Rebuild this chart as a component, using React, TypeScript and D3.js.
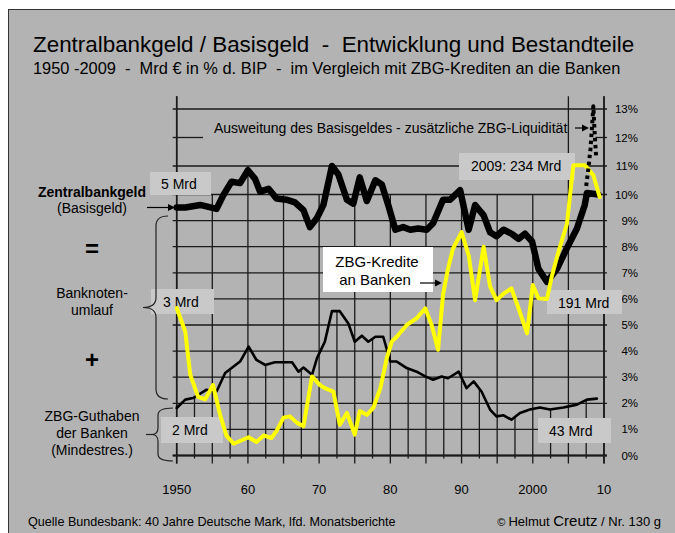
import React from 'react'
import * as d3 from 'd3'

// Zentralbankgeld (Basisgeld), % d. BIP
const baseYears = [1950, 1951.2, 1953.3, 1955.6, 1956.5, 1957.7, 1958.9, 1960, 1961, 1961.7, 1962.9, 1964, 1965.4, 1966.6, 1967.8, 1968.7, 1969.7, 1970.6, 1971.8, 1972.7, 1973.9, 1974.8, 1975.7, 1976.7, 1977.9, 1978.8, 1979.7, 1980.7, 1981.8, 1982.8, 1983.9, 1985.1, 1986, 1987.4, 1988.4, 1989.8, 1991, 1991.9, 1993.1, 1994, 1994.9, 1995.9, 1997, 1998, 1998.9, 1999.9, 2000.8, 2002, 2003.4, 2004.8, 2006.2, 2007.3, 2007.6, 2009.2]
const baseValues = [9.5, 9.5, 9.6, 9.45, 9.95, 10.45, 10.4, 10.85, 10.55, 10.1, 10.2, 9.85, 9.8, 9.7, 9.4, 8.75, 9.1, 9.6, 11.0, 10.7, 9.8, 9.65, 10.6, 9.75, 10.5, 10.35, 9.6, 8.65, 8.75, 8.65, 8.7, 8.65, 8.9, 9.8, 9.8, 10.15, 8.65, 9.6, 9.2, 8.55, 8.4, 8.65, 8.5, 8.3, 8.5, 8.2, 7.15, 6.65, 7.15, 7.95, 8.7, 9.6, 10.05, 10.0]

// Ausweitung des Basisgeldes (gepunktet)
const extraYears = [2007.5, 2007.8, 2008.1, 2008.3, 2008.5, 2008.7, 2008.9]
const extraValues = [10.3, 10.9, 11.6, 12.3, 13.1, 12.1, 11.3]

// ZBG-Kredite an Banken
const creditYears = [1950, 1951.2, 1951.9, 1953, 1954, 1955.1, 1956.1, 1957, 1958, 1960.1, 1961.2, 1962.2, 1963.3, 1964, 1965, 1965.9, 1966.9, 1967.8, 1969, 1970.1, 1970.8, 1972, 1972.9, 1973.9, 1975, 1975.7, 1976.7, 1977.6, 1978.6, 1979.5, 1980.2, 1980.9, 1982.3, 1983.7, 1984.9, 1985.8, 1986.7, 1987.4, 1988.1, 1988.8, 1990, 1991, 1991.9, 1993.1, 1994, 1994.9, 1995.9, 1997, 1998, 1999.2, 2000, 2000.8, 2002, 2002.7, 2003.6, 2004.8, 2005.7, 2007.3, 2008.5, 2009.4]
const creditValues = [5.65, 4.75, 3.1, 2.25, 2.15, 2.7, 1.55, 0.75, 0.45, 0.7, 0.52, 0.77, 0.67, 0.93, 1.45, 1.5, 1.25, 1.12, 3.03, 2.7, 2.58, 2.45, 1.18, 1.63, 0.8, 1.7, 1.56, 1.82, 2.58, 3.73, 4.36, 4.55, 5.0, 5.26, 5.64, 5.0, 4.05, 6.16, 7.16, 7.93, 8.56, 7.67, 5.95, 8.0, 6.48, 5.95, 6.2, 6.4, 5.64, 4.68, 6.53, 6.02, 6.0, 6.9, 7.8, 8.88, 11.03, 11.03, 10.68, 9.9]

// ZBG-Guthaben der Banken (Mindestreserve)
const reserveYears = [1950, 1951.2, 1952.3, 1954.2, 1955.6, 1956.8, 1958.9, 1960.1, 1961.2, 1962.4, 1963.8, 1966.2, 1967.1, 1967.8, 1969, 1969.7, 1970.8, 1971.8, 1972.9, 1974.1, 1975, 1976, 1976.9, 1977.9, 1979, 1980, 1980.9, 1982.3, 1983.7, 1984.9, 1986, 1987.2, 1988.1, 1989.6, 1990.7, 1991.7, 1992.8, 1994, 1994.9, 1995.9, 1997, 1998.2, 1999.6, 2001, 2002.4, 2004.3, 2006.2, 2007.6, 2009]
const reserveValues = [1.82, 2.14, 2.2, 2.52, 2.45, 3.16, 3.6, 4.17, 3.66, 3.47, 3.57, 3.57, 3.21, 3.37, 3.09, 3.73, 4.36, 5.53, 5.53, 5.06, 4.36, 4.59, 4.36, 4.55, 4.55, 3.6, 3.6, 3.35, 3.21, 3.03, 2.9, 3.03, 2.96, 3.21, 2.58, 2.84, 2.45, 1.76, 1.5, 1.54, 1.37, 1.63, 1.76, 1.84, 1.76, 1.84, 1.95, 2.14, 2.18]

const xTickYears = [1950, 1960, 1970, 1980, 1990, 2000, 2010]
const xTickLabels = ['1950', '60', '70', '80', '90', '2000', '10']
const yTickValues = d3.range(0, 14)

const font = 'Liberation Sans, Arial, Helvetica, sans-serif'
const bg = '#b3b3b3'
const boxFill = '#c9c9c9'
const gridColor = '#1a1a1a'

const x = d3.scaleLinear().domain([1950, 2010]).range([176.7, 604])
const y = d3.scaleLinear().domain([0, 10, 13]).range([455.5, 194.5, 109])

type P = [number, number]
const zip = (a: number[], b: number[]): P[] => a.map((v, i) => [v, b[i]])
const line = d3.line<P>().x(d => x(d[0])).y(d => y(d[1]))
const reserveAt = d3.scaleLinear().domain(reserveYears).range(reserveValues)

const brace = (xr: number, xm: number, xt: number, y1: number, y2: number, r: number) => {
  const ym = (y1 + y2) / 2
  return `M${xr},${y1} Q${xm},${y1} ${xm},${y1 + r} L${xm},${ym - r} Q${xm},${ym} ${xt},${ym} Q${xm},${ym} ${xm},${ym + r} L${xm},${y2 - r} Q${xm},${y2} ${xr},${y2}`
}

const LabelBox = ({ bx, by, w, h, tx, ty, text }: { bx: number; by: number; w: number; h: number; tx: number; ty: number; text: string }) => (
  <g>
    <rect x={bx} y={by} width={w} height={h} fill={boxFill} />
    <text x={tx} y={ty} fontSize={14}>{text}</text>
  </g>
)

const App: React.FunctionComponent = () => {
  const fiveYears = d3.range(1950, 2011, 5)
  const halfYears = d3.range(1952.5, 2010, 5)
  const topFor = (yr: number) => (yr === 1950 || yr >= 2005 ? 13.45 : yr === 1960 ? 11 : 10)

  return (
    <svg width={675} height={533} style={{ position: 'absolute', left: 0, top: 0 }} fontFamily={font}>
      <rect x={0} y={0} width={675} height={533} fill="#fff" />
      <rect x={8.5} y={9.5} width={700} height={600} fill={bg} stroke="#333" strokeWidth={1} />

      <text x={33} y={52} fontSize={22.4} style={{ whiteSpace: 'pre' }}>
        Zentralbankgeld / Basisgeld  -  Entwicklung und Bestandteile
      </text>
      <text x={33} y={73.5} fontSize={16.4} style={{ whiteSpace: 'pre' }}>
        1950 -2009  -  Mrd € in % d. BIP  -  im Vergleich mit ZBG-Krediten an die Banken
      </text>

      {/* grid */}
      <g stroke={gridColor} strokeWidth={1.3}>
        {yTickValues.map(v =>
          v === 12 ? (
            <g key={v}>
              <line x1={x(1950) - 4} x2={x(1953.7)} y1={y(v)} y2={y(v)} />
              <line x1={x(2008.8)} x2={x(2010) + 3} y1={y(v)} y2={y(v)} />
            </g>
          ) : (
            <line key={v} x1={x(1950) - 4} x2={x(2010) + 3} y1={y(v)} y2={y(v)} />
          )
        )}
        {fiveYears.map(yr => (
          <line key={yr} x1={x(yr)} x2={x(yr)} y1={y(topFor(yr))} y2={y(0) + 8} />
        ))}
        {halfYears.map(yr => (
          <line key={yr} x1={x(yr)} x2={x(yr)} y1={y(reserveAt(yr))} y2={y(0) + 3} />
        ))}
      </g>
      <line x1={x(1950)} x2={x(1950)} y1={y(13.45)} y2={y(0) + 8} stroke={gridColor} strokeWidth={1.6} />
      <line x1={x(2010)} x2={x(2010)} y1={y(13.45)} y2={y(0) + 8} stroke={gridColor} strokeWidth={1.6} />
      <line x1={x(1950) - 4} x2={x(2010) + 3} y1={y(0)} y2={y(0)} stroke={gridColor} strokeWidth={2} />

      {yTickValues.map(v => (
        <text key={v} x={638} y={y(v) + 4} fontSize={11.5} textAnchor="end">{`${v}%`}</text>
      ))}
      {xTickYears.map((yr, i) => (
        <text key={yr} x={x(yr)} y={494} fontSize={13} textAnchor="middle">{xTickLabels[i]}</text>
      ))}

      {/* value boxes */}
      <LabelBox bx={150} by={172} w={61} h={23} tx={161} ty={189} text="5 Mrd" />
      <LabelBox bx={151} by={289} w={63} h={25} tx={163} ty={307} text="3 Mrd" />
      <LabelBox bx={161} by={417} w={62} h={26} tx={172} ty={435} text="2 Mrd" />
      <LabelBox bx={459} by={153} w={116} h={27} tx={471} ty={171} text="2009: 234 Mrd" />
      <LabelBox bx={547} by={290} w={75} h={24} tx={558} ty={308} text="191 Mrd" />
      <LabelBox bx={538} by={418} w={73} h={25} tx={549} ty={436} text="43 Mrd" />

      {/* series */}
      <g fill="none" strokeLinejoin="round" strokeLinecap="round">
        <path d={line(zip(reserveYears, reserveValues)) || ''} stroke="#000" strokeWidth={2.6} />
        <path d={line(zip(baseYears, baseValues)) || ''} stroke="#000" strokeWidth={6.5} />
        <path d={line(zip(creditYears, creditValues)) || ''} stroke="#ffff00" strokeWidth={4} />
        <path d={line(zip(extraYears, extraValues)) || ''} stroke="#000" strokeWidth={4} strokeDasharray="3.5,3.5" strokeLinecap="butt" />
      </g>

      {/* annotation top */}
      <text x={214} y={133} fontSize={14}>Ausweitung des Basisgeldes - zusätzliche ZBG-Liquidität</text>
      <line x1={575} x2={584} y1={128} y2={128} stroke="#000" strokeWidth={1.2} />
      <path d="M589,128 L582,124.5 L582,131.5 Z" fill="#000" />

      {/* ZBG-Kredite box */}
      <rect x={323} y={247} width={110} height={45} fill="#fff" />
      <text x={377} y={266.5} fontSize={15} textAnchor="middle">ZBG-Kredite</text>
      <text x={375} y={285} fontSize={15} textAnchor="middle">an Banken</text>
      <line x1={420} x2={436} y1={283} y2={283} stroke="#000" strokeWidth={1.2} />
      <path d="M442,283 L435,279.5 L435,286.5 Z" fill="#000" />

      {/* left legend */}
      <g textAnchor="middle" fontSize={14}>
        <text x={92} y={197} fontWeight="bold">Zentralbankgeld</text>
        <text x={92} y={213}>(Basisgeld)</text>
        <text x={92} y={257} fontSize={24} fontWeight="bold">=</text>
        <text x={92} y={298}>Banknoten-</text>
        <text x={92} y={315}>umlauf</text>
        <text x={92} y={368} fontSize={24} fontWeight="bold">+</text>
        <text x={92} y={421}>ZBG-Guthaben</text>
        <text x={92} y={438}>der Banken</text>
        <text x={92} y={455}>(Mindestres.)</text>
      </g>
      <line x1={147} x2={168} y1={207.5} y2={207.5} stroke="#000" strokeWidth={1.2} />
      <path d="M175,207.5 L168,204 L168,211 Z" fill="#000" />
      <g fill="none" stroke="#222" strokeWidth={1.2}>
        <path d={brace(168, 156, 143, 216, 399, 10)} />
        <path d={brace(173, 158, 152, 408, 461, 7)} />
        <line x1={146} x2={152} y1={434.5} y2={434.5} />
      </g>

      {/* footer */}
      <text x={28} y={526} fontSize={12.6}>Quelle Bundesbank: 40 Jahre Deutsche Mark, lfd. Monatsberichte</text>
      <text x={661} y={526} textAnchor="end" fontSize={13}>
        <tspan fontSize={11}>© </tspan>
        <tspan>Helmut </tspan>
        <tspan fontSize={15}>Creutz</tspan>
        <tspan> / Nr. 130 g</tspan>
      </text>
    </svg>
  )
}

export default App
